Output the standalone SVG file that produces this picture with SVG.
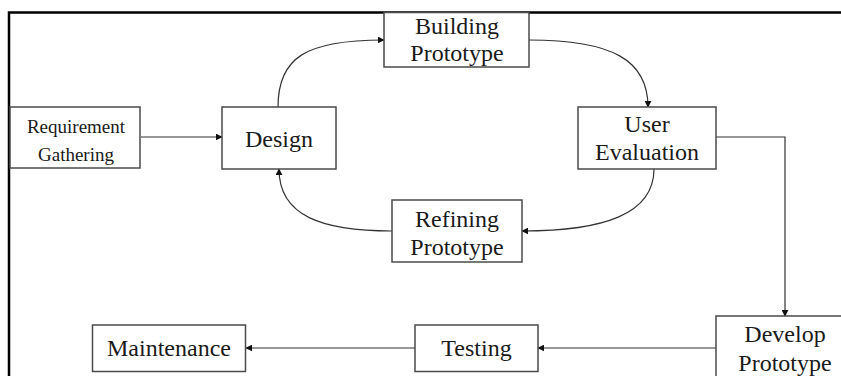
<svg xmlns="http://www.w3.org/2000/svg" width="841" height="376" viewBox="0 0 841 376">
<defs>
<marker id="ah" viewBox="0 0 10 10" refX="9" refY="5" markerWidth="7" markerHeight="7" markerUnits="userSpaceOnUse" orient="auto">
<path d="M0,0 L10,5 L0,10 z" fill="#111"/>
</marker>
<style>
.box{fill:#fff;stroke:#4a4a4a;stroke-width:1.5}
.t{font-family:"Liberation Serif","Times New Roman",serif;font-size:24px;fill:#1a1a1a;text-anchor:middle}
.s{font-size:19px}
.c{fill:none;stroke:#333;stroke-width:1.2;marker-end:url(#ah)}
</style>
</defs>
<rect width="841" height="376" fill="#fff"/>
<path d="M9,380 V12.5 H845" fill="none" stroke="#000" stroke-width="2.5"/>
<g id="connectors">
<path class="c" d="M141,137 H222"/>
<path class="c" d="M278,107 C278,58 305,40 384,40"/>
<path class="c" d="M529,40 C612,40 648,60 648,107"/>
<path class="c" d="M654,169 C654,214 604,231 522,231"/>
<path class="c" d="M392,231 C322,231 279,216 279,169"/>
<path class="c" d="M716,137 H785 V316"/>
<path class="c" d="M716,348 H538"/>
<path class="c" d="M415,348 H246"/>
</g>
<g id="requirement">
<rect class="box" x="10" y="107" width="130" height="61"/>
<text class="t s" x="76" y="133">Requirement</text>
<text class="t s" x="76" y="161">Gathering</text>
</g>
<g id="design">
<rect class="box" x="222" y="107" width="114" height="62"/>
<text class="t" x="279" y="147">Design</text>
</g>
<g id="building">
<rect class="box" x="384" y="12.5" width="145" height="54.5"/>
<text class="t" x="457" y="34">Building</text>
<text class="t" x="457" y="61">Prototype</text>
</g>
<g id="user-evaluation">
<rect class="box" x="578" y="107" width="138" height="62"/>
<text class="t" x="647" y="132">User</text>
<text class="t" x="647" y="160">Evaluation</text>
</g>
<g id="refining">
<rect class="box" x="392" y="200" width="130" height="62"/>
<text class="t" x="457" y="227">Refining</text>
<text class="t" x="457" y="255">Prototype</text>
</g>
<g id="develop">
<rect class="box" x="716" y="316" width="140" height="70"/>
<text class="t" x="785" y="342">Develop</text>
<text class="t" x="785" y="371">Prototype</text>
</g>
<g id="testing">
<rect class="box" x="415" y="325" width="123" height="46.5"/>
<text class="t" x="476.5" y="356">Testing</text>
</g>
<g id="maintenance">
<rect class="box" x="92.5" y="325" width="153" height="46.5"/>
<text class="t" x="169" y="356">Maintenance</text>
</g>
</svg>
